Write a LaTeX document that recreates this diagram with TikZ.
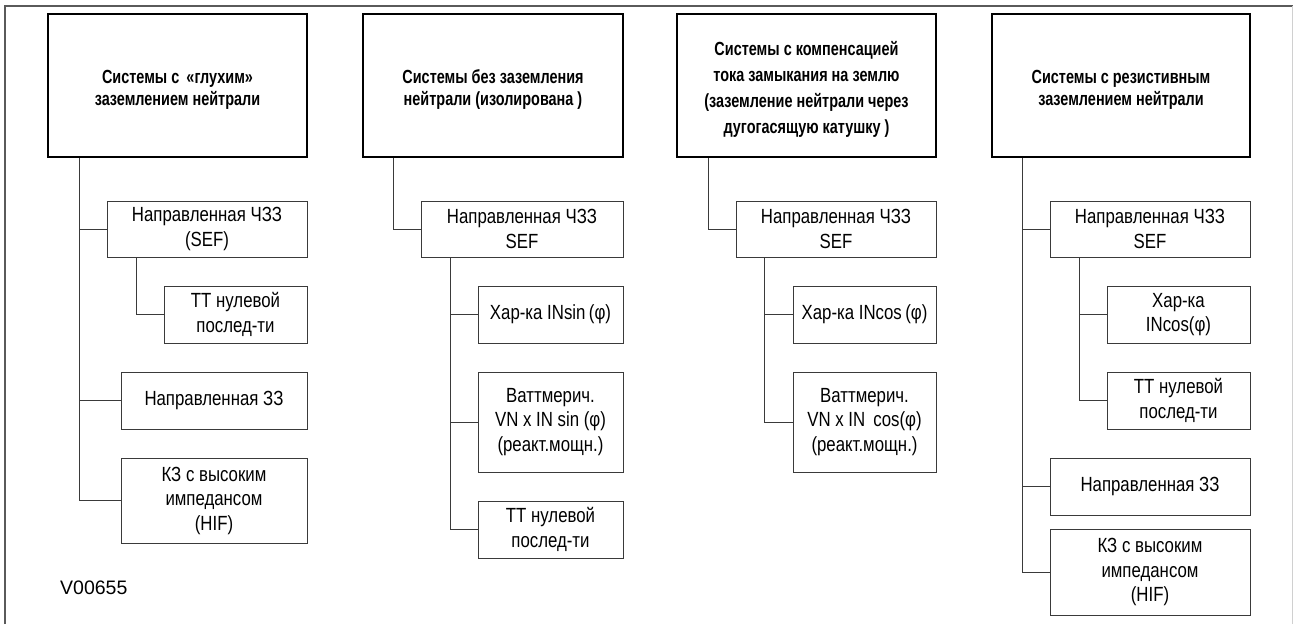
\documentclass[tikz,border=0pt]{standalone}
\usepackage{fontspec}
\setmainfont{Liberation Sans}
\newfontfamily\narrowfont[FakeStretch=0.82]{Liberation Sans}
\newfontfamily\headfont[FakeStretch=0.76]{Liberation Sans}
\definecolor{linegray}{HTML}{3A3A3A}
\definecolor{framegray}{HTML}{5A5A5A}
\definecolor{edgegray}{HTML}{D0D0D0}

\tikzset{
  leaf/.style={draw=linegray, line width=0.9pt, inner sep=0pt, align=center,
    font=\narrowfont\fontsize{20.5}{24.5}\selectfont},
  head/.style={draw=black, line width=2.4pt, inner sep=0pt},
  headtext/.style={inner sep=0pt, align=center,
    font=\headfont\bfseries\fontsize{19}{22}\selectfont},
  link/.style={draw=linegray, line width=0.9pt},
}

\begin{document}
\begin{tikzpicture}[x=1pt, y=-1pt]
\useasboundingbox (0,0) rectangle (1293,624);

% page frame
\draw[framegray, line width=1.6pt] (5,624) -- (5,6) -- (1293,6);
\draw[edgegray, line width=1pt] (1292,6) -- (1292,624);

% ---- solidly earthed ----
\node[head, minimum width=259, minimum height=143] (h1) at (177.5,85.5) {};
\node[headtext] (h1t) at ([yshift=-4pt]h1.center)
  {Системы с \,«глухим»\\заземлением нейтрали};
\node[leaf, minimum width=200, minimum height=56] (c11) at (207,229)
  {Направленная ЧЗЗ\\(SEF)};
\node[leaf, minimum width=143, minimum height=57] (c12) at (235.5,314.5)
  {ТТ нулевой\\послед-ти};
\node[leaf, minimum width=186, minimum height=57] (c13) at (214,400.5)
  {Направленная ЗЗ};
\node[leaf, minimum width=186, minimum height=85] (c14) at (214,500.5)
  {КЗ с высоким\\импедансом\\(HIF)};
\coordinate (b1) at (79,0);
\coordinate (s1) at (136,0);
\draw[link] (h1.south -| b1) |- (c11.west);
\draw[link] (h1.south -| b1) |- (c13.west);
\draw[link] (h1.south -| b1) |- (c14.west);
\draw[link] (c11.south -| s1) |- (c12.west);

\node[anchor=west, font=\fontsize{19.5}{22}\selectfont, inner sep=0pt] (ref) at (60,588) {V00655};

% ---- isolated neutral ----
\node[head, minimum width=260, minimum height=143] (h2) at (493,85.5) {};
\node[headtext] (h2t) at ([yshift=-4pt]h2.center)
  {Системы без заземления\\нейтрали (изолирована )};
\node[leaf, minimum width=202, minimum height=56] (c21) at (522,229)
  {Направленная ЧЗЗ\\SEF};
\node[leaf, minimum width=145, minimum height=57] (c22) at (550.5,314.5)
  {Хар-ка INsin\,(φ)};
\node[leaf, minimum width=145, minimum height=100] (c23) at (550.5,422)
  {Ваттмерич.\\VN x IN sin (φ)\\(реакт.мощн.)};
\node[leaf, minimum width=145, minimum height=57] (c24) at (550.5,529.5)
  {ТТ нулевой\\послед-ти};
\coordinate (b2) at (393,0);
\coordinate (s2) at (450,0);
\draw[link] (h2.south -| b2) |- (c21.west);
\draw[link] (c21.south -| s2) |- (c22.west);
\draw[link] (c21.south -| s2) |- (c23.west);
\draw[link] (c21.south -| s2) |- (c24.west);

% ---- compensated (Petersen coil) ----
\node[head, minimum width=259, minimum height=143] (h3) at (806.5,85.5) {};
\node[headtext, font=\headfont\bfseries\fontsize{19}{26}\selectfont] (h3t)
  at ([yshift=-4pt]h3.center)
  {Системы с компенсацией\\тока замыкания на землю\\(заземление нейтрали через\\дугогасящую катушку )};
\node[leaf, minimum width=200, minimum height=56] (c31) at (836,229)
  {Направленная ЧЗЗ\\SEF};
\node[leaf, minimum width=143, minimum height=57] (c32) at (864.5,314.5)
  {Хар-ка INcos\,(φ)};
\node[leaf, minimum width=143, minimum height=100] (c33) at (864.5,422)
  {Ваттмерич.\\VN x IN \,cos(φ)\\(реакт.мощн.)};
\coordinate (b3) at (708,0);
\coordinate (s3) at (764,0);
\draw[link] (h3.south -| b3) |- (c31.west);
\draw[link] (c31.south -| s3) |- (c32.west);
\draw[link] (c31.south -| s3) |- (c33.west);

% ---- resistance earthed ----
\node[head, minimum width=258, minimum height=143] (h4) at (1121,85.5) {};
\node[headtext] (h4t) at ([yshift=-4pt]h4.center)
  {Системы с резистивным\\заземлением нейтрали};
\node[leaf, minimum width=200, minimum height=56] (c41) at (1150,229)
  {Направленная ЧЗЗ\\SEF};
\node[leaf, minimum width=143, minimum height=57] (c42) at (1178.5,314.5)
  {Хар-ка\\INcos(φ)};
\node[leaf, minimum width=143, minimum height=57] (c43) at (1178.5,400.5)
  {ТТ нулевой\\послед-ти};
\node[leaf, minimum width=200, minimum height=57] (c44) at (1150,486.5)
  {Направленная ЗЗ};
\node[leaf, minimum width=200, minimum height=86] (c45) at (1150,572)
  {КЗ с высоким\\импедансом\\(HIF)};
\coordinate (b4) at (1022,0);
\coordinate (s4) at (1079,0);
\draw[link] (h4.south -| b4) |- (c41.west);
\draw[link] (h4.south -| b4) |- (c44.west);
\draw[link] (h4.south -| b4) |- (c45.west);
\draw[link] (c41.south -| s4) |- (c42.west);
\draw[link] (c41.south -| s4) |- (c43.west);
\end{tikzpicture}
\end{document}
